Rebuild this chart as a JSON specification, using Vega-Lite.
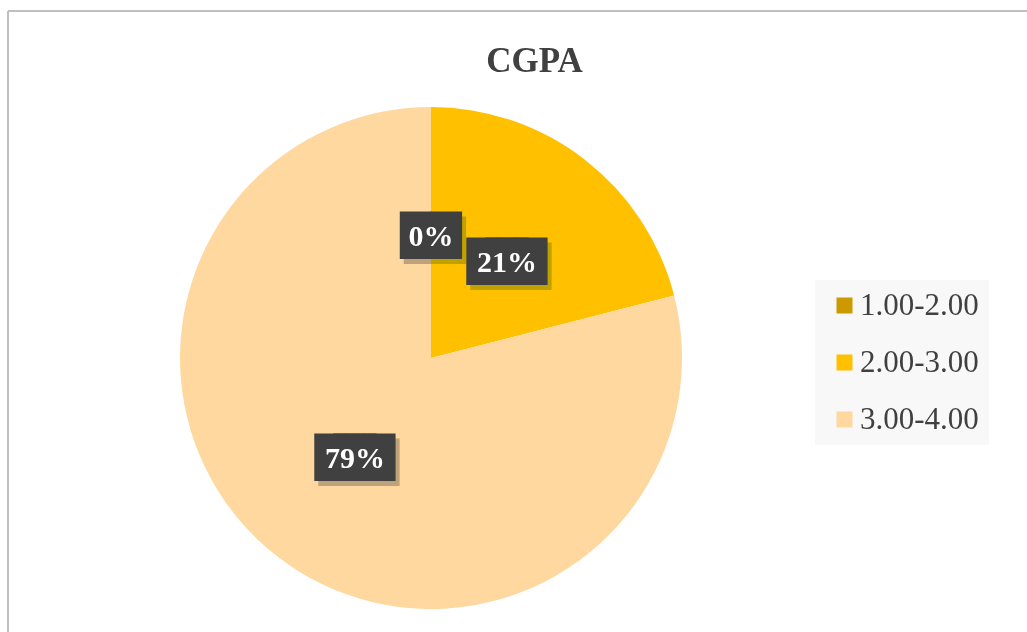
{
  "$schema": "https://vega.github.io/schema/vega-lite/v6.json",
  "width": 1019,
  "height": 621,
  "autosize": {"type": "none"},
  "padding": {"left": 8, "top": 11, "right": 0, "bottom": 0},
  "background": "white",
  "view": {"stroke": null},
  "title": {
    "text": "CGPA",
    "font": "Liberation Serif",
    "fontSize": 35,
    "fontWeight": "bold",
    "color": "#404040",
    "anchor": "middle",
    "frame": "group",
    "baseline": "alphabetic",
    "offset": 0,
    "dy": 97,
    "dx": 17
  },
  "data": {
    "values": [
      {"CGPA": "1.00-2.00", "percent": 0, "label": "0%"},
      {"CGPA": "2.00-3.00", "percent": 21, "label": "21%"},
      {"CGPA": "3.00-4.00", "percent": 79, "label": "79%"}
    ]
  },
  "layer": [
    {
      "data": {"values": [{}]},
      "mark": {"type": "rule", "stroke": "#BFBFBF", "strokeWidth": 2},
      "encoding": {"y": {"value": 0}}
    },
    {
      "data": {"values": [{}]},
      "mark": {"type": "rule", "stroke": "#BFBFBF", "strokeWidth": 2},
      "encoding": {"x": {"value": 0}}
    },
    {
      "mark": {"type": "arc", "outerRadius": 251, "x": 423, "y": 347},
      "encoding": {
        "theta": {"field": "percent", "type": "quantitative", "stack": true},
        "color": {
          "field": "CGPA",
          "type": "nominal",
          "scale": {"domain": ["1.00-2.00", "2.00-3.00", "3.00-4.00"], "range": ["#CC9A00", "#FFC000", "#FFD8A0"]},
          "legend": {
            "title": null,
            "orient": "none",
            "legendX": 807,
            "legendY": 269,
            "fillColor": "#F8F8F8",
            "padding": 10,
            "symbolOffset": 4,
            "symbolType": "square",
            "symbolSize": 256,
            "symbolStrokeWidth": 0,
            "labelFont": "Liberation Serif",
            "labelFontSize": 31,
            "labelColor": "#404040",
            "labelOffset": 0,
            "rowPadding": 25,
            "labelLimit": 300,
            "labelExpr": "datum.label + '\u00a0\u00a0'"
          }
        }
      }
    },
    {
      "mark": {"type": "text", "radius": 124, "x": 427, "y": 355, "dx": -9.5, "font": "DejaVu Sans", "fontSize": 40, "color": "#BFA27A", "blend": "darken", "baseline": "middle", "align": "center"},
      "encoding": {
        "theta": {"field": "percent", "type": "quantitative", "stack": true},
        "detail": {"field": "CGPA", "type": "nominal"},
        "text": {"condition": {"test": "datum.percent >= 10", "value": "██"}, "value": ""}
      }
    },
    {
      "mark": {"type": "text", "radius": 124, "x": 427, "y": 355, "dx": 9.5, "font": "DejaVu Sans", "fontSize": 40, "color": "#BFA27A", "blend": "darken", "baseline": "middle", "align": "center"},
      "encoding": {
        "theta": {"field": "percent", "type": "quantitative", "stack": true},
        "detail": {"field": "CGPA", "type": "nominal"},
        "text": {"condition": {"test": "datum.percent >= 10", "value": "██"}, "value": ""}
      }
    },
    {
      "mark": {"type": "text", "radius": 124, "x": 427, "y": 355, "font": "DejaVu Sans", "fontSize": 40, "color": "#BFA27A", "blend": "darken", "baseline": "middle", "align": "center"},
      "encoding": {
        "theta": {"field": "percent", "type": "quantitative", "stack": true},
        "detail": {"field": "CGPA", "type": "nominal"},
        "text": {"condition": {"test": "datum.percent < 10", "value": "██"}, "value": ""}
      }
    },
    {
      "mark": {"type": "text", "radius": 124, "x": 423, "y": 350, "dx": -9.5, "font": "DejaVu Sans", "fontSize": 40, "color": "#404040", "baseline": "middle", "align": "center"},
      "encoding": {
        "theta": {"field": "percent", "type": "quantitative", "stack": true},
        "detail": {"field": "CGPA", "type": "nominal"},
        "text": {"condition": {"test": "datum.percent >= 10", "value": "██"}, "value": ""}
      }
    },
    {
      "mark": {"type": "text", "radius": 124, "x": 423, "y": 350, "dx": 9.5, "font": "DejaVu Sans", "fontSize": 40, "color": "#404040", "baseline": "middle", "align": "center"},
      "encoding": {
        "theta": {"field": "percent", "type": "quantitative", "stack": true},
        "detail": {"field": "CGPA", "type": "nominal"},
        "text": {"condition": {"test": "datum.percent >= 10", "value": "██"}, "value": ""}
      }
    },
    {
      "mark": {"type": "text", "radius": 124, "x": 423, "y": 350, "font": "DejaVu Sans", "fontSize": 40, "color": "#404040", "baseline": "middle", "align": "center"},
      "encoding": {
        "theta": {"field": "percent", "type": "quantitative", "stack": true},
        "detail": {"field": "CGPA", "type": "nominal"},
        "text": {"condition": {"test": "datum.percent < 10", "value": "██"}, "value": ""}
      }
    },
    {
      "mark": {"type": "text", "radius": 124, "x": 423, "y": 350, "font": "Liberation Serif", "fontSize": 30, "fontWeight": "bold", "color": "#FFFFFF", "baseline": "middle", "align": "center"},
      "encoding": {
        "theta": {"field": "percent", "type": "quantitative", "stack": true},
        "detail": {"field": "CGPA", "type": "nominal"},
        "text": {"field": "label", "type": "nominal"}
      }
    }
  ]
}
